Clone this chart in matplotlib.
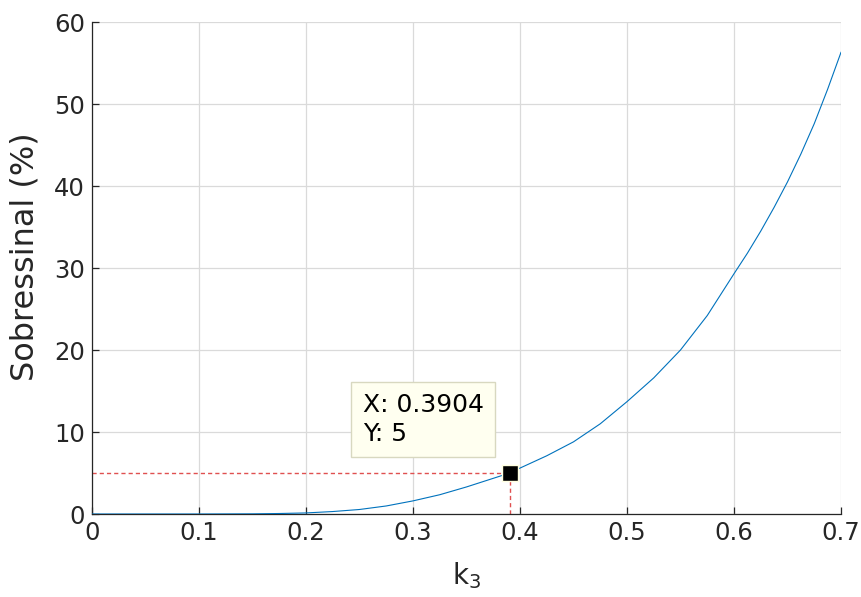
import matplotlib
matplotlib.use("Agg")
import matplotlib.pyplot as plt

k3 = [0.0, 0.05, 0.1, 0.15, 0.175, 0.2, 0.225, 0.25, 0.275, 0.3, 0.325, 0.35, 0.375,
      0.3904, 0.4, 0.425, 0.45, 0.475, 0.5, 0.525, 0.55, 0.575, 0.6, 0.6125, 0.625,
      0.6375, 0.65, 0.6625, 0.675, 0.6875, 0.7]
overshoot = [0.0, 0.0, 0.0, 0.02, 0.06, 0.13, 0.3, 0.55, 0.98, 1.6, 2.35, 3.3, 4.35,
             5.0, 5.6, 7.1, 8.8, 11.0, 13.7, 16.6, 20.0, 24.2, 29.3, 31.8, 34.5,
             37.4, 40.5, 43.9, 47.6, 51.8, 56.3]
tip_x = 0.3904
tip_y = 5
xticks = [0, 0.1, 0.2, 0.3, 0.4, 0.5, 0.6, 0.7]
xticklabels = ["0", "0.1", "0.2", "0.3", "0.4", "0.5", "0.6", "0.7"]
yticks = [0, 10, 20, 30, 40, 50, 60]

fig = plt.figure(figsize=(8.62, 5.97), dpi=100)
ax = fig.add_axes([92/862, 1-514/597, (841-92)/862, (514-22)/597])

ax.plot(k3, overshoot, color="#0072BD", lw=0.8, zorder=3)
ax.plot([0, tip_x], [tip_y, tip_y], ls=(0, (3, 2.2)), color="#E05050", lw=1.0, zorder=2)
ax.plot([tip_x, tip_x], [0, tip_y], ls=(0, (3, 2.2)), color="#E05050", lw=1.0, zorder=2)
ax.plot([tip_x], [tip_y], marker="s", ms=12, mfc="black", mec="#FFFFE0", mew=1.0,
        zorder=5, clip_on=False)
ax.annotate(f"X: {tip_x}\nY: {tip_y}", xy=(tip_x, tip_y), xytext=(-147, 80),
            textcoords="offset pixels", fontsize=18, ha="left", va="top",
            linespacing=1.25, color="black",
            bbox=dict(boxstyle="square,pad=0.45", fc="#FFFFF0", ec="#D8D8C0", lw=1),
            zorder=6)

ax.set_xlim(0, 0.7)
ax.set_ylim(0, 60)
ax.set_xticks(xticks)
ax.set_xticklabels(xticklabels)
ax.set_yticks(yticks)
ax.grid(True, color="#DADADA", lw=0.9)
ax.set_axisbelow(True)
for s in ["top", "right"]:
    ax.spines[s].set_visible(False)
for s in ["left", "bottom"]:
    ax.spines[s].set_color("#262626")
    ax.spines[s].set_linewidth(0.9)
ax.tick_params(direction="in", length=5, width=0.9, colors="#262626",
               labelsize=17.5, labelcolor="#262626", pad=5)
ax.set_xlabel("k$_3$", fontsize=20, color="#262626", labelpad=11)
ax.set_ylabel("Sobressinal (%)", fontsize=23, color="#262626")
ax.yaxis.set_label_coords(-0.069, 0.524)

fig.savefig("out.png", dpi=100)
